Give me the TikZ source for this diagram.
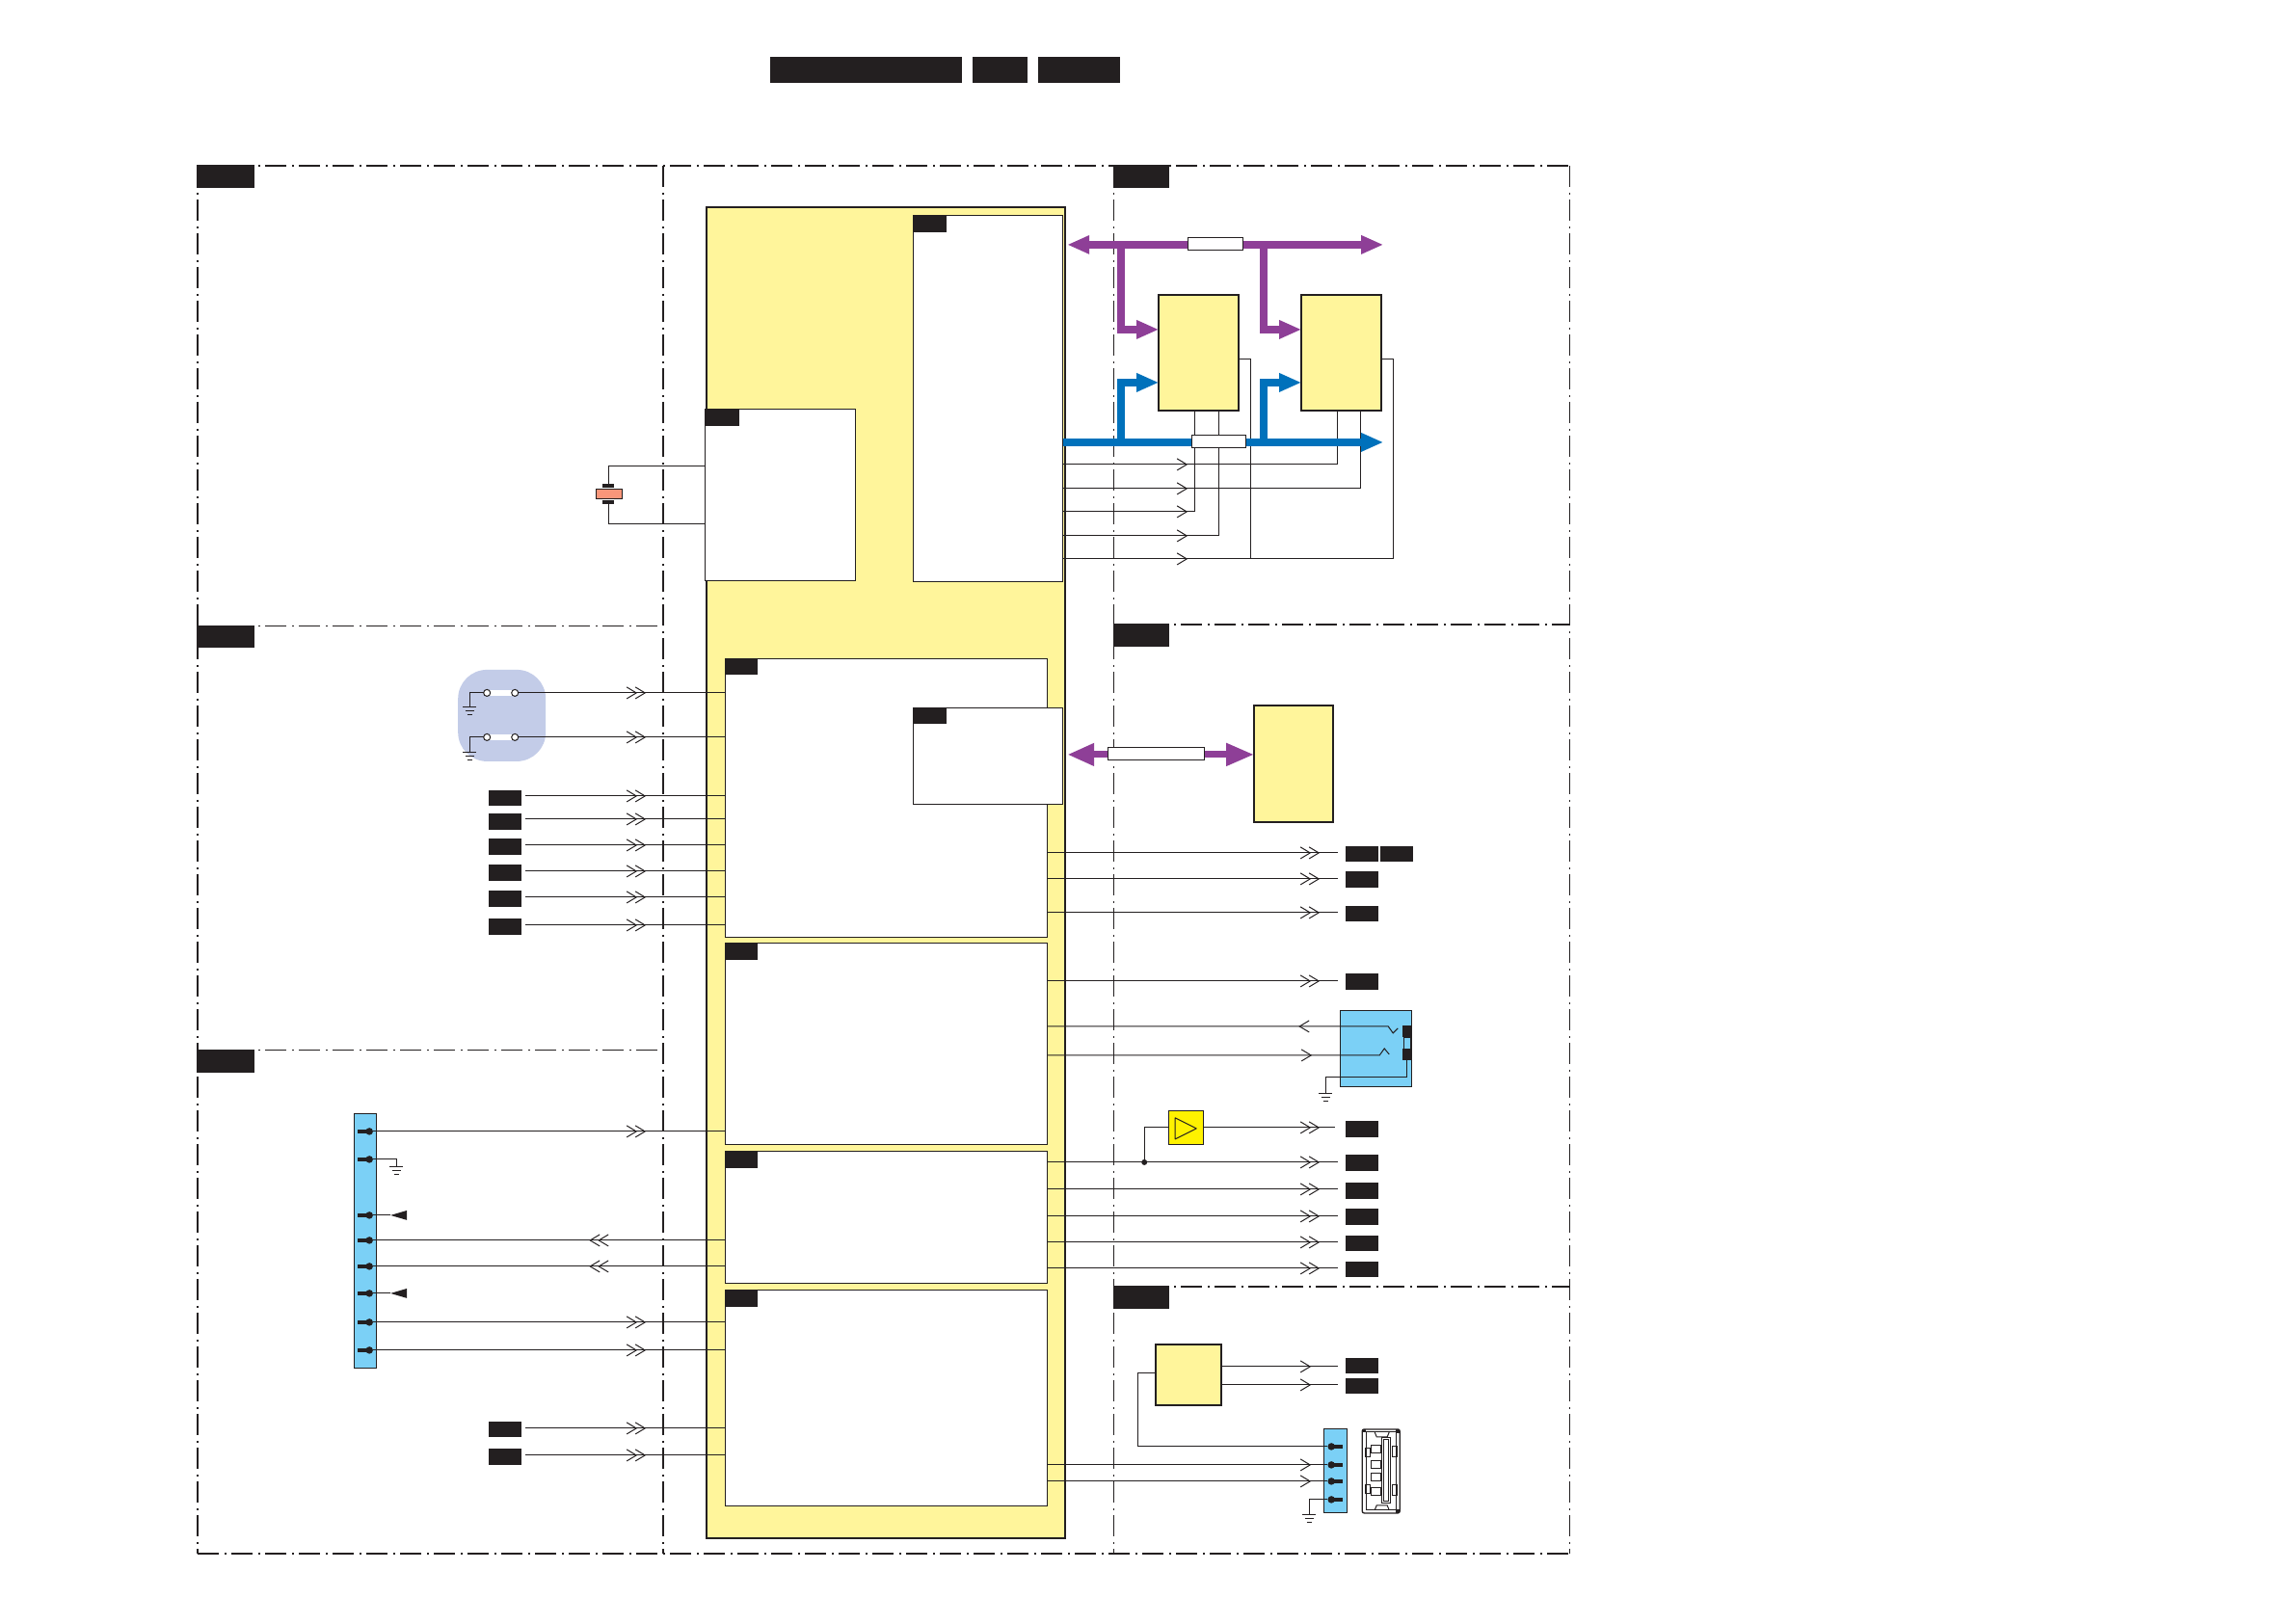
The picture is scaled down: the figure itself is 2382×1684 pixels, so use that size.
\documentclass[tikz,border=0pt]{standalone}
\usetikzlibrary{arrows.meta,calc}
\definecolor{ink}{HTML}{231F20}
\definecolor{pale}{HTML}{FFF59B}
\definecolor{violetbus}{HTML}{8E3F97}
\definecolor{bluebus}{HTML}{0071BB}
\definecolor{cyanpart}{HTML}{7BD0F6}
\definecolor{lavender}{HTML}{C3CCE8}
\definecolor{salmon}{HTML}{F9967A}
\definecolor{ampyellow}{HTML}{FFF200}
\tikzset{
  base/.style={inner sep=0pt,outer sep=0pt,rectangle},
  tagbox/.style={base,fill=ink},
  mainbox/.style={base,fill=pale,draw=ink,line width=2.2pt},
  ic/.style={base,fill=pale,draw=ink,line width=2.4pt},
  panel/.style={base,fill=white,draw=ink,line width=.9pt},
  busbar/.style={base,fill=white,draw=ink,line width=1pt},
  cyanbox/.style={base,fill=cyanpart,draw=ink,line width=1.1pt},
  wire/.style={draw=ink,line width=1pt},
  frameline/.style={draw=ink,line width=#1,dash pattern=on 22pt off 6pt on 2pt off 5pt},
  bus/.style={line width=8pt,draw=#1,line join=miter,-{Triangle[length=23pt,width=18pt]}},
  pinhead/.style={circle,fill=ink,inner sep=0pt,outer sep=0pt,minimum size=7.5pt},
  pinstem/.style={draw=ink,line width=4pt},
  swpt/.style={circle,fill=white,draw=ink,line width=1pt,inner sep=0pt,outer sep=0pt,minimum size=7pt},
  pics/gnd/.style={code={
    \draw[wire] (-7,0) -- (7,0) (-4.5,4) -- (4.5,4) (-2.5,8) -- (2.5,8);}},
  pics/oneR/.style={code={\draw[wire] (-10,-6) -- (0,0) -- (-10,6);}},
  pics/oneL/.style={code={\draw[wire] (10,-6) -- (0,0) -- (10,6);}},
  pics/dblR/.style={code={\draw[wire] (-19,-6) -- (-9,0) -- (-19,6) (-10,-6) -- (0,0) -- (-10,6);}},
  pics/dblL/.style={code={\draw[wire] (19,-6) -- (9,0) -- (19,6) (10,-6) -- (0,0) -- (10,6);}},
}
\newcommand\rbox[6]{%
  \pgfmathsetmacro\rw{#5-#3}\pgfmathsetmacro\rh{#6-#4}%
  \node[#1,minimum width=\rw pt,minimum height=\rh pt,anchor=north west] (#2) at (#3,#4) {};}
\newcommand\chev[3]{\pic at (#2,0 |- #3) {#1};}
% left signal tag: name,y0,y1,wire y
\newcommand\intag[4]{\rbox{tagbox}{#1}{507}{#2}{541}{#3}\coordinate (#1w) at (#1.east |- 0,#4);}
% right signal tag
\newcommand\outtag[4]{\rbox{tagbox}{#1}{1396}{#2}{1430}{#3}\coordinate (#1w) at (#1.west |- 0,#4);}
\newcommand\pinL[3]{\node[pinhead] (#1) at (#2,#3) {};\draw[pinstem] (#1.center) -- ++(-12,0);}
\newcommand\pinR[3]{\node[pinhead] (#1) at (#2,#3) {};\draw[pinstem] (#1.center) -- ++(12,0);}
\begin{document}
\begin{tikzpicture}[x=1pt,y=-1pt]
\useasboundingbox (0,0) rectangle (2382,1684);
\begin{scope}[shift={(0.2,0.9)}]
% header
\rbox{tagbox}{h1}{799}{58}{998}{85}
\rbox{tagbox}{h2}{1009}{58}{1066}{85}
\rbox{tagbox}{h3}{1077}{58}{1162}{85}
% frame
\draw[frameline=1.4pt] (205,171) -- (1628,171);
\draw[frameline=1.8pt] (205,1611) -- (1628,1611);
\draw[frameline=1.5pt] (205,171) -- (205,1611);
\draw[frameline=2pt] (688,171) -- (688,1611);
\draw[frameline=1.1pt] (1155,171) -- (1155,1611);
\draw[frameline=1.1pt] (1628,171) -- (1628,1611);
\draw[frameline=1.1pt] (205,649) -- (688,649);
\draw[frameline=1.1pt] (205,1089) -- (688,1089);
\draw[frameline=1.5pt] (1155,647) -- (1628,647);
\draw[frameline=1.5pt] (1155,1334) -- (1628,1334);
% section tags
\rbox{tagbox}{sa}{204}{170}{264}{194}
\rbox{tagbox}{sb}{204}{648}{264}{671}
\rbox{tagbox}{sc}{204}{1088}{264}{1112}
\rbox{tagbox}{sd}{1155}{170}{1213}{194}
\rbox{tagbox}{se}{1155}{646}{1213}{670}
\rbox{tagbox}{sf}{1155}{1333}{1213}{1357}
% main block
\rbox{mainbox}{main}{733}{214}{1105}{1595}
\rbox{panel}{C1}{947}{223}{1102.5}{603}
\rbox{tagbox}{C1t}{947}{223}{982}{240}
\rbox{panel}{C2}{731}{424}{887}{602}
\rbox{tagbox}{C2t}{731}{424}{767}{441}
\rbox{panel}{L1}{752}{683}{1086.5}{972}
\rbox{tagbox}{L1t}{752}{683}{786}{699}
\rbox{panel}{C3}{947}{734}{1102.5}{834}
\rbox{tagbox}{C3t}{947}{734}{982}{750}
\rbox{panel}{L2}{752}{978}{1086.5}{1187}
\rbox{tagbox}{L2t}{752}{978}{786}{995}
\rbox{panel}{L3}{752}{1194}{1086.5}{1331}
\rbox{tagbox}{L3t}{752}{1194}{786}{1211}
\rbox{panel}{L4}{752}{1338}{1086.5}{1562}
\rbox{tagbox}{L4t}{752}{1338}{786}{1355}
% crystal
\rbox{tagbox}{xa}{625}{501}{637}{505}
\rbox{tagbox}{xb}{625}{518}{637}{522}
\rbox{base,fill=salmon,draw=ink,line width=1.1pt}{xt}{618}{507}{645}{517}
\draw[wire] (xa.north) |- (C2.west |- 0,483);
\draw[wire] (xb.south) |- (C2.west |- 0,543);
% switches
\rbox{base,fill=lavender,rounded corners=30pt}{blob}{475}{694}{566}{789}
\rbox{base,fill=white}{sw1bar}{505}{715}{534}{721}
\rbox{base,fill=white}{sw2bar}{505}{761}{534}{767}
\node[swpt] (s1a) at (505,718) {};
\node[swpt] (s1b) at (534,718) {};
\node[swpt] (s2a) at (505,764) {};
\node[swpt] (s2b) at (534,764) {};
\coordinate (g1) at (487,733);
\coordinate (g2) at (487,780);
\draw[wire] (s1a) -| (g1);
\draw[wire] (s2a) -| (g2);
\pic at (g1) {gnd};
\pic at (g2) {gnd};
\draw[wire] (s1b) -- (s1b -| L1.west);
\draw[wire] (s2b) -- (s2b -| L1.west);
\chev{dblR}{669}{s1b}
\chev{dblR}{669}{s2b}
% left tags
\intag{ta}{819}{835}{825}
\intag{tb}{843}{860}{849}
\intag{tc}{869}{886}{876}
\intag{td}{896}{913}{903}
\intag{te}{923}{940}{930}
\intag{tf}{952}{969}{959}
\intag{tg}{1474}{1490}{1481}
\intag{th}{1502}{1519}{1509}
\foreach \n/\b in {ta/L1,tb/L1,tc/L1,td/L1,te/L1,tf/L1,tg/L4,th/L4}{
  \draw[wire,shorten <=4pt] (\n w) -- (\n w -| \b.west);
  \chev{dblR}{669}{\n w}
}
% left connector
\rbox{cyanbox}{J1}{367}{1155}{390}{1419}
\pinL{p1}{383}{1173}
\pinL{p2}{383}{1202}
\pinL{p3}{383}{1260}
\pinL{p4}{383}{1286}
\pinL{p5}{383}{1313}
\pinL{p6}{383}{1341}
\pinL{p7}{383}{1371}
\pinL{p8}{383}{1400}
\draw[wire] (p1) -- (p1 -| L2.west); \chev{dblR}{669}{p1}
\coordinate (g3) at (411,1210);
\draw[wire] (p2) -| (g3); \pic at (g3) {gnd};
\coordinate (f1) at (405,1260);
\coordinate (f2) at (405,1341);
\draw[wire] (p3) -- (f1);
\draw[wire] (p6) -- (f2);
\fill[ink] (f1) -- ++(17,-5) -- ++(0,10) -- cycle;
\fill[ink] (f2) -- ++(17,-5) -- ++(0,10) -- cycle;
\draw[wire] (p4) -- (p4 -| L3.west); \chev{dblL}{612}{p4}
\draw[wire] (p5) -- (p5 -| L3.west); \chev{dblL}{612}{p5}
\draw[wire] (p7) -- (p7 -| L4.west); \chev{dblR}{669}{p7}
\draw[wire] (p8) -- (p8 -| L4.west); \chev{dblR}{669}{p8}
% memory section
\rbox{ic}{b1}{1202}{305}{1285}{425}
\rbox{ic}{b2}{1350}{305}{1433}{425}
\coordinate (b1a) at (1239,425);
\coordinate (b1b) at (1264,425);
\coordinate (b2a) at (1387,425);
\coordinate (b2b) at (1411,425);
\draw[wire] (b2a) |- (C1.east |- 0,481);
\draw[wire] (b2b) |- (C1.east |- 0,506);
\draw[wire] (b1a) |- (C1.east |- 0,530);
\draw[wire] (b1b) |- (C1.east |- 0,555);
\coordinate (r1) at (1297,579);
\coordinate (r2) at (1445,579);
\draw[wire] (b1.east |- 0,372) -| (r1);
\draw[wire] (b2.east |- 0,372) -| (r2) -- (C1.east |- r2);
\chev{oneR}{1231}{0,481}
\chev{oneR}{1231}{0,506}
\chev{oneR}{1231}{0,530}
\chev{oneR}{1231}{0,555}
\chev{oneR}{1231}{0,579}
% buses
\coordinate (pv) at (1163,253);
\coordinate (pw) at (1311,253);
\coordinate (bl) at (1163,458);
\coordinate (bm) at (1311,458);
\draw[bus=violetbus] (pv) |- (b1.west |- 0,341);
\draw[bus=violetbus] (pw) |- (b2.west |- 0,341);
\draw[bus=bluebus] (bl) |- (b1.west |- 0,396);
\draw[bus=bluebus] (bm) |- (b2.west |- 0,396);
\draw[bus=violetbus,{Triangle[length=23pt,width=18pt]}-{Triangle[length=23pt,width=18pt]}] (1107,253) -- (1435,253);
\draw[bus=bluebus] (C1.east |- bl) -- (1435,458);
\rbox{busbar}{bv}{1232}{246}{1289}{259}
\rbox{busbar}{bb}{1236}{451}{1292}{464}
% flash section
\rbox{ic}{b3}{1301}{731}{1383}{852}
\draw[line width=7pt,draw=violetbus,{Triangle[length=28pt,width=22pt]}-{Triangle[length=29pt,width=22pt]}] (1107,782) -- (b3.west |- 0,782);
\rbox{busbar}{bf}{1149}{775}{1249}{788}
% right outputs
\outtag{oa}{877}{893}{884}
\rbox{tagbox}{oa2}{1432}{877}{1466}{893}
\outtag{ob}{903}{920}{911}
\outtag{oc}{939}{955}{946}
\outtag{od}{1009}{1026}{1017}
\outtag{oe}{1197}{1214}{1205}
\outtag{of}{1226}{1243}{1233}
\outtag{og}{1253}{1270}{1261}
\outtag{oh}{1281}{1297}{1288}
\outtag{oi}{1308}{1324}{1315}
\foreach \n/\b in {oa/L1,ob/L1,oc/L1,od/L2,oe/L3,of/L3,og/L3,oh/L3,oi/L3}{
  \draw[wire,shorten >=8pt] (\n w -| \b.east) -- (\n w);
  \chev{dblR}{1368}{\n w}
}
% amplifier
\outtag{oj}{1162}{1179}{1169}
\rbox{base,fill=ampyellow,draw=ink,line width=1.1pt}{amp}{1212}{1152}{1248}{1187}
\draw[ink,line width=1pt,line join=round] (1219,1159) -- (1219,1181) -- (1241,1170) -- cycle;
\draw[wire,shorten >=11pt] (amp.east |- ojw) -- (ojw);
\chev{dblR}{1368}{ojw}
\node[circle,fill=ink,inner sep=0pt,minimum size=6pt] (dot) at (1187,1205) {};
\draw[wire] (dot) |- (amp.west |- ojw);
% headphone jack
\rbox{cyanbox}{jack}{1390}{1048}{1464}{1127}
\rbox{tagbox}{ja}{1455}{1063}{1464}{1075}
\rbox{tagbox}{jb}{1455}{1087}{1464}{1099}
\draw[ink,line width=.8pt] (1456,1075) rectangle (1463,1087);
\coordinate (j1) at (1440,1064);
\coordinate (j2) at (1431,1094);
\draw[wire] (L2.east |- j1) -- (j1) -- (1445,1071) -- (1450,1066);
\draw[wire] (L2.east |- j2) -- (j2) -- (1436,1087) -- (1441,1093);
\chev{oneL}{1348}{j1}
\chev{oneR}{1360}{j2}
\coordinate (g4) at (1375,1134);
\draw[wire] (1459,1099) |- (1375,1117) -- (g4);
\pic at (g4) {gnd};
% bottom right
\rbox{ic}{b4}{1199}{1394}{1267}{1457}
\outtag{ok}{1408}{1424}{1417}
\outtag{ol}{1429}{1445}{1436}
\draw[wire,shorten >=8pt] (b4.east |- okw) -- (okw); \chev{oneR}{1359}{okw}
\draw[wire,shorten >=8pt] (b4.east |- olw) -- (olw); \chev{oneR}{1359}{olw}
\rbox{cyanbox}{J2}{1373}{1482}{1397}{1569}
\pinR{q1}{1381}{1500}
\pinR{q2}{1381}{1519}
\pinR{q3}{1381}{1536}
\pinR{q4}{1381}{1555}
\draw[wire] (b4.west |- 0,1424) -- (1180,1424) |- (q1);
\draw[wire] (L4.east |- q2) -- (q2); \chev{oneR}{1359}{q2}
\draw[wire] (L4.east |- q3) -- (q3); \chev{oneR}{1359}{q3}
\coordinate (g5) at (1358,1571);
\draw[wire] (q4) -| (g5);
\pic at (g5) {gnd};
% USB socket
\begin{scope}[ink,line width=1pt]
  \draw[line width=1.3pt,rounded corners=2pt] (1413,1482) rectangle (1452,1569);
  \draw (1417,1485) rectangle (1448,1566);
  \draw (1433,1491) rectangle (1442,1559);
  \draw (1435,1493) rectangle (1440,1557);
  \draw (1422,1499) rectangle (1432,1507);
  \draw (1422,1515) rectangle (1432,1523);
  \draw (1422,1528) rectangle (1432,1536);
  \draw (1422,1543) rectangle (1432,1551);
  \draw (1416,1502) rectangle (1421,1511);
  \draw (1416,1540) rectangle (1421,1549);
  \draw (1444,1500) rectangle (1449,1511);
  \draw (1444,1540) rectangle (1449,1551);
  \draw (1426,1485) -- (1428,1490) -- (1439,1490) -- (1441,1485);
  \draw (1426,1566) -- (1428,1561) -- (1439,1561) -- (1441,1566);
  \fill (1413,1482) rectangle (1417,1485);
  \fill (1448,1482) rectangle (1452,1486);
  \fill (1448,1565) rectangle (1452,1569);
\end{scope}
\end{scope}
\end{tikzpicture}
\end{document}
